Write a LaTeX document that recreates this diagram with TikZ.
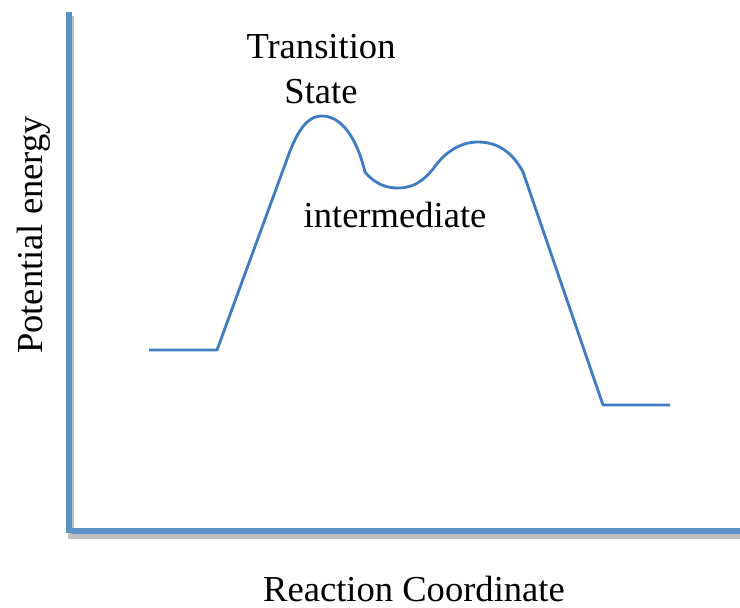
\documentclass[tikz,border=0pt]{standalone}
\usepackage{fontspec}
\setmainfont{Liberation Serif}
\definecolor{ejeazul}{HTML}{5B93C9}
\definecolor{curvaazul}{HTML}{3E7BC1}
\tikzset{
    eje/.style={line width=3.6pt, ejeazul},
    sombra/.style={line width=3.6pt, black!25},
    curva/.style={line width=2pt, curvaazul, line join=round},
    etiqueta/.style={font=\fontsize{26}{32}\selectfont, inner sep=0pt, anchor=base}
}

\begin{document}
\begin{tikzpicture}[x=0.025cm, y=-0.025cm]
    \useasboundingbox (0,0) rectangle (740,607);

    % Ejes (con sombra)
    \draw[sombra] (71,16) -- (71,536) -- (740,536);
    \draw[eje] (69,12) -- (69,533);
    \draw[eje] (72,531) -- (740,531);

    % Perfil de energia
    \draw[curva] (149,350) -- (217,350) -- (286,162)
        .. controls (296,133) and (306,116) .. (322,116)
        .. controls (340,116) and (356,135) .. (365,172)
        .. controls (375,184) and (386,188) .. (398,188)
        .. controls (414,188) and (424,180) .. (433,169)
        .. controls (445,152) and (460,142) .. (478,142)
        .. controls (500,142) and (514,155) .. (523,172)
        -- (603,405) -- (670,405);

    % Textos
    \node[etiqueta, align=center] (ts) at (321,103) {Transition\\State};
    \node[etiqueta] (inter) at (395,227) {intermediate};
    \node[etiqueta] (xlab) at (414,601) {Reaction Coordinate};
    \node[etiqueta, rotate=90] (ylab) at (42,235) {Potential energy};
\end{tikzpicture}
\end{document}
